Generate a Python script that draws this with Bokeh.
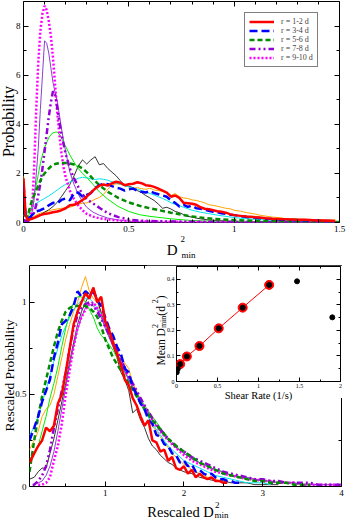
import math
from bokeh.plotting import figure
from bokeh.models import Range1d, FixedTicker, LinearAxis, Label, Legend, LegendItem, CustomJSTickFormatter
from bokeh.layouts import column
from bokeh.embed import file_html
from bokeh.resources import INLINE

SERIF = "Liberation Serif"

# ---------------- top panel data ----------------
TOP_X_NOISY = [0, 0.01, 0.02, 0.04, 0.06, 0.08, 0.10, 0.12, 0.14, 0.16, 0.18, 0.20, 0.22, 0.24, 0.26, 0.28,
               0.30, 0.32, 0.34, 0.36, 0.38, 0.40, 0.42, 0.44, 0.46, 0.48, 0.50, 0.52, 0.54, 0.56, 0.58, 0.60,
               0.62, 0.64, 0.66, 0.68, 0.70, 0.72, 0.74, 0.76, 0.78, 0.80, 0.82, 0.84, 0.86, 0.88, 0.90, 0.92,
               0.94, 0.96, 0.98, 1.00, 1.03, 1.06, 1.09, 1.12, 1.15, 1.18, 1.21, 1.24, 1.27, 1.30, 1.33, 1.36,
               1.39, 1.42, 1.45, 1.48]
TOP_RED = [1.80, 0.30, 0.10, 0.15, 0.22, 0.30, 0.35, 0.38, 0.42, 0.45, 0.50, 0.58, 0.70, 0.72, 0.80, 0.92,
           1.05, 1.22, 1.38, 1.50, 1.55, 1.50, 1.60, 1.66, 1.62, 1.52, 1.56, 1.58, 1.64, 1.60, 1.52, 1.50,
           1.45, 1.38, 1.30, 1.22, 1.05, 1.10, 1.00, 0.80, 0.78, 0.76, 0.72, 0.62, 0.56, 0.54, 0.50, 0.46,
           0.44, 0.40, 0.34, 0.30, 0.27, 0.24, 0.22, 0.20, 0.17, 0.15, 0.14, 0.13, 0.12, 0.11, 0.11, 0.10,
           0.08, 0.08, 0.07, 0.06]
TOP_BLUE = [1.55, 0.30, 0.12, 0.30, 0.45, 0.50, 0.58, 0.70, 0.80, 0.78, 0.92, 0.98, 0.90, 1.20, 1.22, 1.05,
            1.12, 1.20, 1.40, 1.52, 1.58, 1.56, 1.48, 1.42, 1.38, 1.30, 1.35, 1.38, 1.30, 1.25, 1.22, 1.28,
            1.20, 1.15, 1.10, 1.05, 0.90, 0.80, 0.65, 0.72, 0.64, 0.68, 0.58, 0.56, 0.52, 0.48, 0.44, 0.42,
            0.38, 0.35, 0.32, 0.30, 0.26, 0.22, 0.20, 0.18, 0.15, 0.14, 0.12, 0.11, 0.10, 0.10, 0.09, 0.08,
            0.08, 0.07, 0.06, 0.05]
TOP_ORANGE = [1.90, 0.35, 0.15, 0.20, 0.30, 0.38, 0.42, 0.48, 0.52, 0.55, 0.58, 0.58, 0.62, 0.68, 0.75, 0.78,
              0.80, 0.85, 0.95, 1.02, 1.15, 1.35, 1.52, 1.58, 1.55, 1.50, 1.45, 1.40, 1.42, 1.38, 1.35, 1.40,
              1.32, 1.30, 1.28, 1.22, 1.10, 1.18, 1.05, 1.00, 0.98, 0.92, 0.90, 0.85, 0.80, 0.72, 0.70, 0.66,
              0.62, 0.58, 0.56, 0.50, 0.46, 0.40, 0.36, 0.30, 0.26, 0.22, 0.20, 0.16, 0.15, 0.14, 0.13, 0.12,
              0.11, 0.11, 0.10, 0.10]
TOP_BLACK_X = [0, 0.02, 0.04, 0.06, 0.08, 0.10, 0.12, 0.14, 0.16, 0.18, 0.20, 0.22, 0.24, 0.26, 0.28, 0.30,
               0.32, 0.34, 0.36, 0.38, 0.40, 0.42, 0.44, 0.46, 0.48, 0.50, 0.52, 0.54, 0.56, 0.58, 0.60, 0.62,
               0.64, 0.66, 0.68, 0.70, 0.72, 0.74, 0.76, 0.78, 0.80, 0.82, 0.84, 0.88, 0.92, 0.96, 1.00, 1.10,
               1.20, 1.30, 1.40, 1.48]
TOP_BLACK = [0.10, 0.08, 0.15, 0.25, 0.32, 0.42, 0.52, 0.65, 0.82, 1.05, 1.30, 1.55, 1.90, 2.30, 2.55, 2.38,
             2.55, 2.68, 2.35, 2.40, 2.20, 2.05, 1.90, 1.70, 1.50, 1.48, 1.42, 1.30, 1.22, 1.10, 1.00, 0.90,
             0.75, 0.58, 0.62, 0.55, 0.45, 0.40, 0.32, 0.25, 0.22, 0.18, 0.15, 0.10, 0.08, 0.06, 0.05, 0.04,
             0.03, 0.02, 0.02, 0.02]
TOP_CYAN_X = [0, 0.02, 0.04, 0.06, 0.08, 0.10, 0.12, 0.14, 0.16, 0.18, 0.20, 0.22, 0.24, 0.26, 0.28, 0.30,
              0.32, 0.34, 0.36, 0.38, 0.40, 0.42, 0.44, 0.46, 0.48, 0.50, 0.52, 0.54, 0.56, 0.58, 0.60, 0.62,
              0.64, 0.66, 0.68, 0.70, 0.72, 0.74, 0.76, 0.78, 0.80, 0.84, 0.88, 0.92, 0.96, 1.00, 1.05, 1.10,
              1.15, 1.20, 1.30, 1.40, 1.48]
TOP_CYAN = [0.30, 0.35, 0.60, 0.78, 0.88, 0.98, 1.08, 1.20, 1.32, 1.45, 1.55, 1.65, 1.72, 1.80, 1.84, 1.82,
            1.78, 1.75, 1.78, 1.76, 1.72, 1.66, 1.60, 1.56, 1.50, 1.45, 1.40, 1.36, 1.30, 1.25, 1.18, 1.12,
            1.05, 0.98, 0.90, 0.80, 0.74, 0.68, 0.62, 0.56, 0.50, 0.42, 0.36, 0.30, 0.25, 0.20, 0.16, 0.13,
            0.10, 0.09, 0.07, 0.05, 0.05]
TOP_GREEN_X = [0, 0.02, 0.03, 0.04, 0.05, 0.06, 0.07, 0.08, 0.09, 0.10, 0.11, 0.12, 0.13, 0.14, 0.15, 0.16,
               0.17, 0.18, 0.20, 0.22, 0.24, 0.26, 0.28, 0.30, 0.33, 0.36, 0.40, 0.45, 0.50, 0.55, 0.60, 0.70,
               0.80, 0.90, 1.00, 1.10, 1.20, 1.30, 1.40, 1.50]
TOP_LIME = [0.30, 0.20, 0.40, 0.70, 1.10, 1.50, 1.95, 2.40, 2.75, 3.05, 3.25, 3.45, 3.58, 3.65, 3.68, 3.68,
            3.60, 3.45, 3.10, 2.75, 2.45, 2.20, 2.00, 1.84, 1.55, 1.25, 0.95, 0.65, 0.45, 0.32, 0.25, 0.15,
            0.08, 0.05, 0.04, 0.03, 0.02, 0.02, 0.02, 0.02]
TOP_GREEN = [0.30, 0.25, 0.60, 0.90, 1.10, 1.30, 1.50, 1.70, 1.88, 2.00, 2.10, 2.20, 2.28, 2.35, 2.38, 2.40,
             2.42, 2.42, 2.42, 2.40, 2.36, 2.30, 2.20, 2.05, 1.78, 1.52, 1.25, 1.00, 0.82, 0.68, 0.58, 0.40,
             0.24, 0.15, 0.10, 0.07, 0.05, 0.04, 0.03, 0.02]
TOP_PEAK_X = [0, 0.02, 0.03, 0.04, 0.05, 0.06, 0.07, 0.08, 0.09, 0.10, 0.11, 0.12, 0.13, 0.14, 0.15, 0.16,
              0.17, 0.18, 0.19, 0.20, 0.22, 0.24, 0.26, 0.28, 0.30, 0.33, 0.36, 0.40, 0.45, 0.50, 0.55, 0.60,
              0.70, 0.80, 0.90, 1.00, 1.20, 1.50]
TOP_MAGENTA = [0.05, 0.05, 0.15, 0.45, 2.10, 4.50, 6.50, 7.80, 8.50, 8.82, 8.65, 8.20, 7.60, 6.70, 5.60, 4.50,
               3.60, 2.85, 2.25, 1.85, 1.30, 0.95, 0.70, 0.50, 0.35, 0.24, 0.17, 0.12, 0.08, 0.06, 0.05, 0.04,
               0.03, 0.02, 0.02, 0.01, 0.01, 0.01]
TOP_VIOLET = [0.05, 0.05, 0.15, 0.40, 0.90, 1.90, 3.00, 4.60, 6.00, 7.40, 7.30, 6.90, 6.30, 5.70, 5.30, 4.95,
              4.40, 3.85, 3.33, 2.90, 2.05, 1.55, 1.15, 0.85, 0.62, 0.42, 0.30, 0.18, 0.10, 0.05, 0.03, 0.02,
              0.01, 0.01, 0.00, 0.00, 0.00, 0.00]
TOP_PURPLE = [0.10, 0.05, 0.12, 0.20, 0.40, 0.70, 1.10, 1.60, 2.20, 2.90, 3.60, 4.30, 4.90, 5.35, 5.20, 4.70,
              4.10, 3.60, 3.20, 2.80, 2.20, 1.80, 1.45, 1.15, 0.95, 0.78, 0.60, 0.38, 0.22, 0.12, 0.08, 0.06,
              0.04, 0.03, 0.02, 0.02, 0.01, 0.01]

# ---------------- bottom panel data ----------------
B_RED_X = [0.04, 0.10, 0.15, 0.20, 0.25, 0.30, 0.35, 0.40, 0.45, 0.50, 0.55, 0.60, 0.65, 0.70, 0.75, 0.80,
           0.85, 0.90, 0.95, 1.00, 1.05, 1.10, 1.15, 1.20, 1.25, 1.30, 1.35, 1.40, 1.45, 1.50, 1.55, 1.60,
           1.65, 1.70, 1.75, 1.80, 1.85, 1.90, 1.95, 2.00, 2.05, 2.10, 2.15, 2.20, 2.25, 2.30, 2.35, 2.40,
           2.45, 2.50, 2.55]
B_RED = [0.13, 0.18, 0.22, 0.25, 0.32, 0.30, 0.33, 0.45, 0.50, 0.62, 0.75, 0.88, 0.95, 1.00, 1.05, 1.02,
         1.08, 1.00, 1.03, 0.90, 0.85, 0.78, 0.72, 0.66, 0.58, 0.55, 0.48, 0.44, 0.38, 0.33, 0.36, 0.25,
         0.24, 0.19, 0.20, 0.14, 0.16, 0.10, 0.09, 0.11, 0.07, 0.09, 0.05, 0.07, 0.05, 0.04, 0.05, 0.03,
         0.03, 0.02, 0.02]
B_BLUE_X = [0.04, 0.10, 0.15, 0.20, 0.25, 0.30, 0.35, 0.40, 0.45, 0.50, 0.55, 0.60, 0.65, 0.70, 0.75, 0.80,
            0.85, 0.90, 0.95, 1.00, 1.05, 1.10, 1.15, 1.20, 1.25, 1.30, 1.35, 1.40, 1.45, 1.50, 1.55, 1.60,
            1.65, 1.70, 1.75, 1.80, 1.85, 1.90, 1.95, 2.00, 2.05, 2.10, 2.15, 2.20, 2.25, 2.30, 2.35, 2.40,
            2.45, 2.50, 2.55, 2.60, 2.65, 2.70]
B_BLUE = [0.25, 0.32, 0.38, 0.46, 0.52, 0.58, 0.70, 0.78, 0.88, 0.90, 0.93, 0.98, 1.06, 1.03, 1.06, 1.04,
          1.06, 1.01, 0.98, 0.92, 0.86, 0.82, 0.76, 0.72, 0.64, 0.62, 0.54, 0.50, 0.45, 0.42, 0.36, 0.34,
          0.28, 0.27, 0.23, 0.22, 0.18, 0.17, 0.13, 0.14, 0.11, 0.12, 0.08, 0.09, 0.07, 0.06, 0.07, 0.05,
          0.04, 0.04, 0.03, 0.03, 0.02, 0.02]
B_ORANGE_X = [0.04, 0.10, 0.15, 0.20, 0.25, 0.30, 0.35, 0.40, 0.45, 0.50, 0.55, 0.60, 0.65, 0.70, 0.75, 0.80,
              0.85, 0.90, 0.95, 1.00, 1.05, 1.10, 1.15, 1.20, 1.25, 1.30, 1.35, 1.40, 1.45, 1.50, 1.55, 1.60,
              1.65, 1.70, 1.75, 1.80, 1.85, 1.90, 1.95, 2.00, 2.05, 2.10, 2.15, 2.20, 2.25, 2.30, 2.35, 2.40,
              2.45, 2.50]
B_ORANGE = [0.20, 0.25, 0.30, 0.38, 0.42, 0.44, 0.50, 0.60, 0.70, 0.80, 0.88, 0.95, 1.00, 1.08, 1.14, 1.06,
            1.02, 1.00, 0.95, 0.88, 0.84, 0.80, 0.74, 0.70, 0.67, 0.64, 0.56, 0.52, 0.46, 0.42, 0.38, 0.33,
            0.30, 0.27, 0.24, 0.21, 0.18, 0.16, 0.14, 0.12, 0.11, 0.09, 0.08, 0.07, 0.06, 0.05, 0.05, 0.04,
            0.03, 0.03]
B_BLACK_X = [0.04, 0.10, 0.15, 0.20, 0.25, 0.30, 0.35, 0.40, 0.45, 0.50, 0.55, 0.60, 0.65, 0.70, 0.75, 0.80,
             0.85, 0.90, 0.95, 1.00, 1.05, 1.10, 1.15, 1.20, 1.25, 1.30, 1.35, 1.40, 1.45, 1.50, 1.55, 1.60,
             1.65, 1.70, 1.75, 1.80, 1.85, 1.90, 1.95, 2.00, 2.10, 2.20, 2.30, 2.40, 2.50, 2.60, 2.70, 2.80,
             2.90, 3.00, 3.10, 3.20]
B_BLACK = [0.04, 0.05, 0.08, 0.10, 0.10, 0.18, 0.26, 0.36, 0.46, 0.56, 0.68, 0.78, 0.88, 0.95, 1.00, 1.04,
           1.08, 1.02, 0.94, 0.88, 0.82, 0.76, 0.70, 0.62, 0.58, 0.52, 0.40, 0.42, 0.36, 0.32, 0.26, 0.22,
           0.20, 0.17, 0.15, 0.13, 0.12, 0.10, 0.09, 0.08, 0.07, 0.05, 0.04, 0.03, 0.03, 0.02, 0.02, 0.02,
           0.01, 0.01, 0.01, 0.01]
B_CYAN_X = [0.04, 0.10, 0.15, 0.20, 0.25, 0.30, 0.35, 0.40, 0.45, 0.50, 0.55, 0.60, 0.65, 0.70, 0.75, 0.80,
            0.85, 0.90, 0.95, 1.00, 1.10, 1.20, 1.30, 1.40, 1.50, 1.60, 1.70, 1.80, 1.90, 2.00, 2.10, 2.20,
            2.30, 2.40, 2.50, 2.60, 2.70, 2.80, 2.90, 3.00, 3.10]
B_CYAN = [0.28, 0.32, 0.38, 0.46, 0.52, 0.60, 0.68, 0.75, 0.82, 0.87, 0.92, 0.96, 0.99, 1.01, 1.02, 1.02,
          1.00, 0.97, 0.93, 0.88, 0.78, 0.68, 0.58, 0.49, 0.41, 0.34, 0.28, 0.22, 0.18, 0.14, 0.12, 0.10,
          0.08, 0.06, 0.05, 0.04, 0.03, 0.02, 0.02, 0.02, 0.01]
B_LIME_X = [0.04, 0.10, 0.15, 0.20, 0.25, 0.30, 0.35, 0.40, 0.45, 0.50, 0.55, 0.60, 0.65, 0.70, 0.75, 0.80,
            0.85, 0.90, 0.95, 1.00, 1.10, 1.20, 1.30, 1.40, 1.50, 1.60, 1.70, 1.80, 1.90, 2.00, 2.10, 2.20,
            2.30, 2.40, 2.50, 2.60, 2.70, 2.80, 2.90, 3.00, 3.10, 3.20, 3.30, 3.40, 3.50, 3.60, 3.70, 3.80]
B_LIME = [0.15, 0.18, 0.22, 0.30, 0.38, 0.48, 0.56, 0.65, 0.76, 0.86, 0.94, 1.00, 1.03, 1.03, 1.00, 0.96,
          0.92, 0.86, 0.82, 0.80, 0.74, 0.66, 0.58, 0.51, 0.44, 0.38, 0.32, 0.26, 0.22, 0.18, 0.15, 0.13,
          0.11, 0.09, 0.08, 0.06, 0.05, 0.04, 0.04, 0.03, 0.03, 0.02, 0.02, 0.02, 0.01, 0.01, 0.01, 0.01]
B_GREEN_X = [0.04, 0.10, 0.15, 0.20, 0.25, 0.30, 0.35, 0.40, 0.45, 0.50, 0.55, 0.60, 0.65, 0.70, 0.75, 0.80,
             0.85, 0.90, 0.95, 1.00, 1.10, 1.20, 1.30, 1.40, 1.50, 1.60, 1.70, 1.80, 1.90, 2.00, 2.10, 2.20,
             2.30, 2.40, 2.50, 2.60, 2.70, 2.80, 2.90, 3.00, 3.10, 3.20, 3.30, 3.40, 3.50, 3.60]
B_GREEN = [0.08, 0.25, 0.38, 0.49, 0.58, 0.67, 0.76, 0.84, 0.90, 0.95, 0.97, 0.98, 0.98, 0.98, 0.98, 0.97,
           0.95, 0.92, 0.87, 0.80, 0.70, 0.63, 0.56, 0.49, 0.42, 0.36, 0.31, 0.26, 0.22, 0.19, 0.16, 0.13,
           0.11, 0.09, 0.07, 0.06, 0.05, 0.04, 0.03, 0.03, 0.02, 0.02, 0.02, 0.01, 0.01, 0.01]
B_PURPLE_X = [0.08, 0.10, 0.15, 0.20, 0.25, 0.30, 0.35, 0.40, 0.45, 0.50, 0.55, 0.60, 0.65, 0.70, 0.75, 0.80,
              0.85, 0.90, 0.95, 1.00, 1.10, 1.20, 1.30, 1.40, 1.50, 1.60, 1.70, 1.80, 1.90, 2.00, 2.10, 2.20,
              2.30, 2.40, 2.50, 2.60, 2.70, 2.80, 2.90, 3.00, 3.10, 3.20, 3.30, 3.40, 3.50, 3.60, 3.70, 3.80,
              3.90, 4.00]
B_PURPLE = [0.01, 0.01, 0.03, 0.06, 0.11, 0.20, 0.32, 0.42, 0.52, 0.62, 0.75, 0.86, 0.93, 0.97, 0.99, 1.00,
            0.98, 0.95, 0.91, 0.87, 0.78, 0.69, 0.60, 0.52, 0.44, 0.37, 0.31, 0.26, 0.22, 0.19, 0.16, 0.14,
            0.12, 0.10, 0.08, 0.07, 0.06, 0.05, 0.04, 0.04, 0.03, 0.03, 0.02, 0.02, 0.02, 0.02, 0.01, 0.01,
            0.01, 0.01]
B_VIOLET_X = [0.10, 0.15, 0.20, 0.25, 0.30, 0.35, 0.40, 0.45, 0.50, 0.55, 0.60, 0.65, 0.70, 0.75, 0.80, 0.85,
              0.90, 0.95, 1.00, 1.10, 1.20, 1.30, 1.40, 1.50, 1.60, 1.70, 1.80, 1.90, 2.00, 2.10, 2.20, 2.30,
              2.40, 2.50, 2.60, 2.70, 2.80, 2.90, 3.00, 3.10, 3.20, 3.30, 3.40, 3.50, 3.60, 3.70, 3.80, 3.90,
              4.00]
B_VIOLET = [0.01, 0.02, 0.03, 0.06, 0.11, 0.19, 0.30, 0.42, 0.54, 0.66, 0.76, 0.85, 0.92, 0.97, 0.99, 0.98,
            0.96, 0.92, 0.86, 0.76, 0.67, 0.58, 0.50, 0.43, 0.36, 0.30, 0.25, 0.21, 0.18, 0.15, 0.13, 0.11,
            0.09, 0.08, 0.06, 0.05, 0.05, 0.04, 0.03, 0.03, 0.02, 0.02, 0.02, 0.01, 0.01, 0.01, 0.01, 0.01,
            0.01]
B_MAGENTA_X = [0.15, 0.20, 0.25, 0.30, 0.35, 0.40, 0.45, 0.50, 0.55, 0.60, 0.65, 0.70, 0.75, 0.80, 0.85, 0.90,
               0.95, 1.00, 1.10, 1.20, 1.30, 1.40, 1.50, 1.60, 1.70, 1.80, 1.90, 2.00, 2.10, 2.20, 2.30, 2.40,
               2.50, 2.60, 2.70, 2.80, 2.90, 3.00, 3.10, 3.20, 3.30, 3.40, 3.50, 3.60, 3.70, 3.80, 3.90, 4.00]
B_MAGENTA = [0.01, 0.01, 0.02, 0.05, 0.14, 0.22, 0.34, 0.50, 0.63, 0.76, 0.86, 0.92, 0.96, 0.99, 1.00, 0.97,
             0.93, 0.88, 0.78, 0.68, 0.59, 0.50, 0.43, 0.36, 0.30, 0.25, 0.21, 0.17, 0.14, 0.12, 0.10, 0.08,
             0.07, 0.06, 0.05, 0.04, 0.04, 0.03, 0.03, 0.02, 0.02, 0.02, 0.01, 0.01, 0.01, 0.01, 0.01, 0.01]

# ---------------- inset data ----------------
SHEAR_RATE = [0.003, 0.015, 0.045, 0.126, 0.28, 0.515, 0.807, 1.13, 1.47, 1.90]
MEAN_D2 = [0.036, 0.049, 0.068, 0.098, 0.139, 0.208, 0.289, 0.378, 0.392, 0.251]
FIT_SHEAR = SHEAR_RATE[2:8]
FIT_MEAN = MEAN_D2[2:8]

# ---------------- ticks ----------------
TOP_X_TICKS, TOP_X_LABELS = [0, 0.5, 1, 1.5], ["0", "0.5", "1", "1.5"]
TOP_X_MINOR = [0.1, 0.2, 0.3, 0.4, 0.6, 0.7, 0.8, 0.9, 1.1, 1.2, 1.3, 1.4]
TOP_Y_TICKS, TOP_Y_LABELS = [0, 2, 4, 6, 8], ["0", "2", "4", "6", "8"]
TOP_Y_MINOR = [1, 3, 5, 7]
BOT_X_TICKS, BOT_X_LABELS = [1, 2, 3, 4], ["1", "2", "3", "4"]
BOT_X_MINOR = [0.5, 1.5, 2.5, 3.5]
BOT_Y_TICKS, BOT_Y_LABELS = [0, 0.5, 1], ["0", "0.5", "1"]
BOT_Y_MINOR = [0.25, 0.75]
INS_X_TICKS, INS_X_LABELS = [0, 0.5, 1, 1.5, 2], ["0", "0.5", "1", "1.5", "2"]
INS_X_MINOR = [0.25, 0.75, 1.25, 1.75]
INS_Y_TICKS, INS_Y_LABELS = [0, 0.1, 0.2, 0.3, 0.4], ["0", "0.1", "0.2", "0.3", "0.4"]
INS_Y_MINOR = [0.05, 0.15, 0.25, 0.35]

LEGEND_LABELS = ["r = 1-2 d", "r = 3-4 d", "r = 5-6 d", "r = 7-8 d", "r = 9-10 d"]

RED, BLUE, GREEN, PURPLE, MAGENTA = "#ff0000", "#0000ff", "#008b00", "#9400d3", "#ff00ff"
ORANGE, BLACK, CYAN, LIME, VIOLET = "#ffa500", "#000000", "#00e5ee", "#00ee00", "#8a3fd0"


def base_fig(width, height, xr, yr, left, right, top, bottom):
    p = figure(width=width, height=height, x_range=Range1d(*xr), y_range=Range1d(*yr),
               output_backend="svg", toolbar_location=None,
               x_axis_location=None, y_axis_location=None,
               min_border_left=left, min_border_right=right,
               min_border_top=top, min_border_bottom=bottom)
    p.frame_align = False
    p.grid.visible = False
    p.outline_line_color = "black"
    p.outline_line_width = 1
    p.background_fill_color = "white"
    p.border_fill_color = "white"
    return p


def add_axes(p, xt, xl, xm, yt, yl, ym, fs, standoff, tick_in=5, minor_in=3):
    spec = (("below", xt, xl, xm), ("left", yt, yl, ym), ("above", xt, None, xm), ("right", yt, None, ym))
    for side, ticks, labels, minor in spec:
        ax = LinearAxis(ticker=FixedTicker(ticks=ticks, minor_ticks=minor))
        ax.axis_line_color = None
        ax.major_tick_in = tick_in
        ax.major_tick_out = 0
        ax.minor_tick_in = minor_in
        ax.minor_tick_out = 0
        ax.major_tick_line_color = "black"
        ax.minor_tick_line_color = "black"
        if labels is None:
            ax.formatter = CustomJSTickFormatter(code="return ''")
            ax.major_label_text_font_size = "0px"
            ax.major_label_standoff = 0
        else:
            ax.major_label_overrides = dict(zip(ticks, labels))
            ax.major_label_text_font = SERIF
            ax.major_label_text_font_size = fs
            ax.major_label_standoff = standoff
            ax.major_label_text_color = "black"
        p.add_layout(ax, side)


# ================= top figure =================
top = base_fig(346, 258, (0, 1.5), (0, 9), 23, 7, 1, 36)
add_axes(top, TOP_X_TICKS, TOP_X_LABELS, TOP_X_MINOR, TOP_Y_TICKS, TOP_Y_LABELS, TOP_Y_MINOR, "9px", 3)

top.line(TOP_X_NOISY, TOP_ORANGE, color=ORANGE, line_width=1)
top.line(TOP_BLACK_X, TOP_BLACK, color=BLACK, line_width=1, line_alpha=0.8)
top.line(TOP_CYAN_X, TOP_CYAN, color=CYAN, line_width=1)
top.line(TOP_GREEN_X, TOP_LIME, color=LIME, line_width=1)
top.line(TOP_PEAK_X, TOP_VIOLET, color=VIOLET, line_width=1)
r5 = top.line(TOP_PEAK_X, TOP_MAGENTA, color=MAGENTA, line_width=2.5, line_dash="2 2")
r4 = top.line(TOP_PEAK_X, TOP_PURPLE, color=PURPLE, line_width=2.5, line_dash="6 3 2 3 2 3")
r3 = top.line(TOP_GREEN_X, TOP_GREEN, color=GREEN, line_width=2.5, line_dash="5 3")
r2 = top.line(TOP_X_NOISY, TOP_BLUE, color=BLUE, line_width=2.5, line_dash="8 4")
r1 = top.line(TOP_X_NOISY, TOP_RED, color=RED, line_width=2.5)

legend = Legend(items=[LegendItem(label=t, renderers=[r]) for t, r in zip(LEGEND_LABELS, [r1, r2, r3, r4, r5])],
                location=(221, 155))
legend.label_text_font = SERIF
legend.label_text_font_size = "8px"
legend.glyph_width = 25
legend.glyph_height = 9
legend.label_height = 9
legend.spacing = 0
legend.padding = 4
legend.label_standoff = 7
legend.border_line_color = "black"
legend.border_line_width = 1
legend.background_fill_color = "white"
legend.background_fill_alpha = 1
top.add_layout(legend)

# ================= bottom figure =================
bot = base_fig(346, 260, (0.04, 4.0), (0, 1.2), 29, 5, 7, 32)
add_axes(bot, BOT_X_TICKS, BOT_X_LABELS, BOT_X_MINOR, BOT_Y_TICKS, BOT_Y_LABELS, BOT_Y_MINOR, "9px", 3)

bot.line(B_ORANGE_X, B_ORANGE, color=ORANGE, line_width=1)
bot.line(B_BLACK_X, B_BLACK, color=BLACK, line_width=1, line_alpha=0.8)
bot.line(B_CYAN_X, B_CYAN, color=CYAN, line_width=1)
bot.line(B_LIME_X, B_LIME, color=LIME, line_width=1)
bot.line(B_VIOLET_X, B_VIOLET, color=VIOLET, line_width=1)
bot.line(B_MAGENTA_X, B_MAGENTA, color=MAGENTA, line_width=2.5, line_dash="2 2")
bot.line(B_PURPLE_X, B_PURPLE, color=PURPLE, line_width=2.5, line_dash="6 3 2 3 2 3")
bot.line(B_GREEN_X, B_GREEN, color=GREEN, line_width=2.5, line_dash="5 3")
bot.line(B_BLUE_X, B_BLUE, color=BLUE, line_width=2.5, line_dash="8 4")
bot.line(B_RED_X, B_RED, color=RED, line_width=2.5)

# ================= inset figure =================
ins = base_fig(200, 133, (0, 2), (0, 0.45), 30, 6, 1, 17)
add_axes(ins, INS_X_TICKS, INS_X_LABELS, INS_X_MINOR, INS_Y_TICKS, INS_Y_LABELS, INS_Y_MINOR, "6px", 2,
         tick_in=4, minor_in=2)
ins.line(FIT_SHEAR, FIT_MEAN, color=RED, line_width=1)
ins.scatter(FIT_SHEAR, FIT_MEAN, size=9, color=RED)
ins.scatter(SHEAR_RATE, MEAN_D2, size=5, color="black")

# ================= transparent text overlay (page pixel coordinates) =================
ann = figure(width=346, height=519, x_range=Range1d(0, 346), y_range=Range1d(519, 0),
             output_backend="svg", toolbar_location=None, x_axis_location=None, y_axis_location=None,
             min_border=0, min_border_left=0, min_border_right=0, min_border_top=0, min_border_bottom=0)
ann.frame_align = False
ann.grid.visible = False
ann.outline_line_color = None
ann.background_fill_color = None
ann.border_fill_color = None


def lab(text, x, y, size, align="left", baseline="alphabetic", angle=0.0):
    ann.add_layout(Label(x=x, y=y, text=text, text_font=SERIF, text_font_size=size, text_align=align,
                         text_baseline=baseline, angle=angle, text_color="black"))


UP = math.pi / 2
# top panel titles
lab("Probability", 8, 121, "16px", align="center", baseline="middle", angle=UP)
lab("D", 177, 249, "15px", align="right")
lab("2", 180, 238.5, "9px")
lab("min", 181, 254, "9px")
# bottom panel titles
lab("Rescaled Probability", 9, 375, "13.5px", align="center", baseline="middle", angle=UP)
lab("Rescaled D", 213.3, 511, "14.5px", align="right")
lab("2", 214.5, 504, "9px")
lab("min", 214, 514.5, "9px")
# inset titles
lab("Shear Rate (1/s)", 258, 395, "10.5px", align="center")
lab("Mean D", 160, 365, "11.5px", angle=UP)
lab("2", 154.5, 327.6, "8px", angle=UP)
lab("min", 162.5, 327.6, "8px", angle=UP)
lab(" (d", 160, 315.2, "11.5px", angle=UP)
lab("2", 154.5, 302.7, "8px", angle=UP)
lab(")", 160, 298.7, "11.5px", angle=UP)

ins.margin = (-253, 0, 0, 146)
ann.margin = (-398, 0, -121, 0)

layout = column(top, bot, ins, ann, width=346)
open("out.html", "w").write(file_html(layout, INLINE))
